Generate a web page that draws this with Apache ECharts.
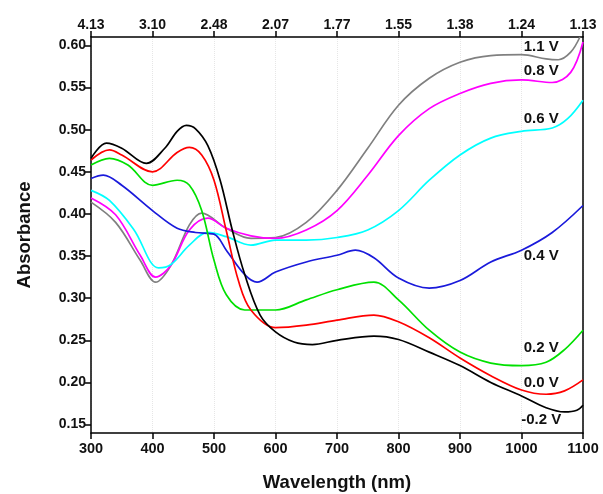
<!DOCTYPE html>
<html><head><meta charset="utf-8">
<script src="https://cdn.jsdelivr.net/npm/echarts@6/dist/echarts.min.js"></script>
<style>html,body{margin:0;padding:0;background:#fff}#c{width:603px;height:494px}</style>
</head><body><div id="c"></div>
<script>
const yTicks = [0.15,0.20,0.25,0.30,0.35,0.40,0.45,0.50,0.55,0.60];
const xTicks = [300,400,500,600,700,800,900,1000,1100];
const sNeg02 = [[300,0.466],[325,0.484],[350,0.478],[390,0.460],[420,0.478],[440,0.498],[455,0.505],[470,0.501],[490,0.481],[510,0.44],[530,0.38],[550,0.328],[575,0.28],[600,0.26],[630,0.248],[660,0.245],[700,0.25],[760,0.255],[800,0.251],[850,0.236],[900,0.22],[950,0.20],[1000,0.184],[1040,0.17],[1070,0.165],[1090,0.167],[1100,0.173]];
const s00 = [[300,0.464],[330,0.476],[350,0.47],[400,0.45],[440,0.473],[460,0.479],[480,0.47],[500,0.44],[520,0.38],[540,0.32],[560,0.286],[600,0.265],[650,0.268],[700,0.274],[760,0.28],[800,0.272],[850,0.253],[900,0.229],[950,0.208],[1000,0.191],[1040,0.186],[1070,0.19],[1100,0.203]];
const s02 = [[300,0.458],[330,0.466],[360,0.458],[400,0.434],[440,0.44],[460,0.434],[480,0.404],[500,0.345],[520,0.304],[550,0.286],[600,0.286],[650,0.298],[700,0.31],[760,0.319],[800,0.298],[850,0.262],[900,0.236],[950,0.223],[1000,0.22],[1040,0.224],[1070,0.239],[1100,0.262]];
const s04 = [[300,0.442],[320,0.446],[350,0.434],[400,0.404],[440,0.383],[470,0.378],[500,0.376],[520,0.357],[550,0.328],[570,0.319],[600,0.331],[650,0.343],[700,0.351],[730,0.357],[760,0.348],[800,0.324],[850,0.312],[900,0.321],[950,0.343],[1000,0.357],[1050,0.378],[1100,0.41]];
const s06 = [[300,0.428],[330,0.416],[370,0.381],[410,0.336],[430,0.34],[460,0.363],[490,0.378],[520,0.373],[560,0.363],[600,0.369],[650,0.369],[700,0.372],[750,0.381],[800,0.404],[850,0.44],[900,0.47],[950,0.49],[1000,0.498],[1050,0.502],[1075,0.513],[1100,0.535]];
const s08 = [[300,0.419],[340,0.399],[380,0.351],[405,0.325],[430,0.339],[460,0.381],[490,0.395],[520,0.383],[560,0.374],[600,0.371],[650,0.381],[700,0.404],[750,0.446],[800,0.493],[850,0.525],[900,0.543],[950,0.555],[1000,0.559],[1050,0.556],[1080,0.568],[1100,0.604]];
const s11 = [[300,0.414],[340,0.39],[380,0.345],[405,0.319],[430,0.339],[460,0.387],[480,0.401],[520,0.383],[560,0.371],[600,0.372],[650,0.39],[700,0.428],[750,0.478],[800,0.529],[850,0.561],[900,0.58],[950,0.588],[1000,0.589],[1040,0.584],[1060,0.583],[1080,0.592],[1095,0.61]];
const names = ['-0.2 V','0.0 V','0.2 V','0.4 V','0.6 V','0.8 V','1.1 V'];
const labelPos = [[1032,0.156],[1032,0.200],[1032,0.241],[1032,0.350],[1032,0.513],[1032,0.570],[1032,0.598]];
const seriesData = [sNeg02,s00,s02,s04,s06,s08,s11];
const colors = ['#000000','#ff0000','#00e000','#1a1adb','#00ffff','#ff00ff','#808080'];

const font = 'Arial, "Liberation Sans", sans-serif';
const chart = echarts.init(document.getElementById('c'), null, {renderer:'canvas'});
const axLine = {show:true, onZero:false, lineStyle:{color:'#000', width:1.5}};
chart.setOption({
  animation:false,
  grid:{left:91, right:20, top:37, bottom:61, containLabel:false, outerBoundsMode:'none'},
  xAxis:[
    {type:'value', min:300, max:1100, interval:100, position:'bottom',
     axisLine:axLine, axisTick:{show:true, inside:false, length:6, lineStyle:{color:'#000',width:1.5}},
     axisLabel:{color:'#111', fontFamily:font, fontWeight:'bold', fontSize:14.5, margin:8, formatter:v=>String(v)},
     splitLine:{show:true, lineStyle:{color:'#e6e6e6', type:'dotted', width:1}},
     name:'Wavelength (nm)', nameLocation:'middle', nameGap:40,
     nameTextStyle:{color:'#111', fontFamily:font, fontWeight:'bold', fontSize:18.5}},
    {type:'value', min:300, max:1100, interval:100, position:'top',
     axisLine:axLine, axisTick:{show:true, inside:false, length:6, lineStyle:{color:'#000',width:1.5}},
     axisLabel:{color:'#111', fontFamily:font, fontWeight:'bold', fontSize:14, margin:5,
       formatter:v=>(1240/v).toFixed(2)},
     splitLine:{show:false}}
  ],
  yAxis:[
    {type:'value', min:0.14, max:0.61, position:'left',
     axisLine:axLine,
     axisTick:{show:true, length:6, customValues:yTicks, lineStyle:{color:'#000',width:1.5}},
     axisLabel:{color:'#111', fontFamily:font, fontWeight:'bold', fontSize:14, margin:5,
       customValues:yTicks, formatter:v=>v.toFixed(2)},
     splitLine:{show:false},
     name:'Absorbance', nameLocation:'middle', nameGap:57, nameRotate:90,
     nameTextStyle:{color:'#111', fontFamily:font, fontWeight:'bold', fontSize:18.5}},
    {type:'value', min:0.14, max:0.61, position:'right',
     axisLine:axLine, axisTick:{show:false}, axisLabel:{show:false}, splitLine:{show:false}}
  ],
  series: seriesData.map((d,i)=>({
    type:'line', name:names[i], data:d, smooth:0.35, showSymbol:false, symbol:'none',
    lineStyle:{color:colors[i], width:1.7}, z:10-i,
    markPoint:{symbol:'circle', symbolSize:0, silent:true,
      data:[{coord:labelPos[i], value:names[i],
        label:{show:true, formatter:names[i], color:'#111', fontFamily:font, fontWeight:'bold', fontSize:15, position:'inside'}}]}
  }))
});
</script></body></html>
